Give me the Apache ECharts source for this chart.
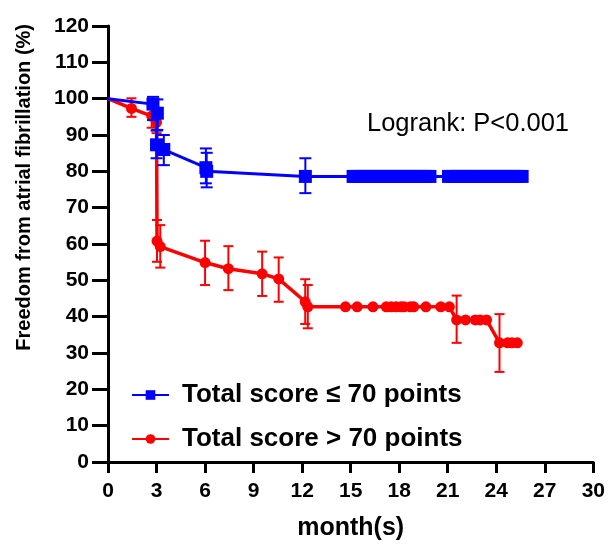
<!DOCTYPE html>
<html>
<head>
    <meta charset="utf-8">
    <title>chart</title>
    <script src="https://cdn.jsdelivr.net/npm/echarts@6/dist/echarts.min.js"></script>
    <style>
        html, body { margin: 0; padding: 0; background: #fff; }
        #main { width: 608px; height: 547px; }
    </style>
</head>
<body>
<div id="main"></div>
<script>
    // axis ticks
    var xTicks = [0, 3, 6, 9, 12, 15, 18, 21, 24, 27, 30];
    var yTicks = [0, 10, 20, 30, 40, 50, 60, 70, 80, 90, 100, 110, 120];

    // group 1: total score <= 70 points (blue squares)
    var blueX = [0, 2.78, 3.05, 3.0, 3.45, 6.05, 6.1, 12.2,
        15.15, 15.4, 15.65, 15.9, 16.15, 16.4, 16.65, 16.9, 17.15, 17.4, 17.65, 17.9,
        18.15, 18.4, 18.65, 18.9, 19.15, 19.4, 19.65, 19.9,
        21.05, 21.3, 21.55, 21.8, 22.05, 22.3, 22.55, 22.8, 23.05, 23.3, 23.55, 23.8,
        24.05, 24.3, 24.55, 24.8, 25.05, 25.3, 25.6];
    var blueY = [100, 98.5, 96, 87.3, 86, 81, 80, 78.6,
        78.6, 78.6, 78.6, 78.6, 78.6, 78.6, 78.6, 78.6, 78.6, 78.6, 78.6, 78.6,
        78.6, 78.6, 78.6, 78.6, 78.6, 78.6, 78.6, 78.6,
        78.6, 78.6, 78.6, 78.6, 78.6, 78.6, 78.6, 78.6, 78.6, 78.6, 78.6, 78.6,
        78.6, 78.6, 78.6, 78.6, 78.6, 78.6, 78.6];
    // error bars: x, lower, upper
    var blueErrX = [2.78, 3.05, 3.0, 3.45, 6.05, 6.1, 12.2];
    var blueErrLo = [94.1, 91.4, 83.6, 81.7, 76.7, 75.6, 74];
    var blueErrHi = [100.5, 99.8, 91.2, 90, 86.3, 85.1, 83.6];

    // group 2: total score > 70 points (red circles)
    var redX = [0, 1.45, 2.7, 3.0, 3.03, 3.23, 6.0, 7.44, 9.53, 10.55, 12.19, 12.35,
        14.68, 15.4, 16.38, 17.2, 17.5, 17.8, 18.1, 18.3, 18.7, 18.9, 19.65, 20.57, 21.1,
        21.55, 22.1, 22.7, 23.0, 23.4,
        24.2, 24.7, 24.97, 25.3];
    var redY = [100, 97.3, 95.2, 93.5, 60.8, 59.3, 54.9, 53.2, 51.8, 50.4, 44.1, 42.7,
        42.7, 42.7, 42.7, 42.7, 42.7, 42.7, 42.7, 42.7, 42.7, 42.7, 42.7, 42.7, 42.7,
        39.1, 39.1, 39.1, 39.1, 39.1,
        32.8, 32.8, 32.8, 32.8];
    var redErrX = [1.45, 2.7, 3.0, 3.03, 3.23, 6.0, 7.44, 9.53, 10.55, 12.19, 12.35, 21.55, 24.2];
    var redErrLo = [95, 92, 90.5, 55.1, 53.5, 48.7, 47.3, 45.7, 44.1, 38, 36.8, 32.8, 24.8];
    var redErrHi = [100.1, 98, 96.8, 66.6, 65.2, 60.9, 59.4, 57.9, 56.3, 50.3, 48.7, 45.8, 40.7];

    var BLUE = '#0000ff';
    var RED = '#ff0000';

    function pairs(xs, ys) {
        return xs.map(function (x, i) { return [x, ys[i]]; });
    }
    function triples(xs, lo, hi) {
        return xs.map(function (x, i) { return [x, lo[i], hi[i]]; });
    }
    // no marker on the starting point at time 0
    function markerSize(size) {
        return function (val, p) { return p.dataIndex === 0 ? 0 : size; };
    }

    // draw an error bar (vertical stem + two caps) through the axis scales
    function errorBar(color, capW) {
        return function (params, api) {
            var top = api.coord([api.value(0), api.value(2)]);
            var bot = api.coord([api.value(0), api.value(1)]);
            var st = { stroke: color, lineWidth: 2 };
            return {
                type: 'group',
                children: [
                    { type: 'line', shape: { x1: top[0], y1: top[1], x2: bot[0], y2: bot[1] }, style: st },
                    { type: 'line', shape: { x1: top[0] - capW, y1: top[1], x2: top[0] + capW, y2: top[1] }, style: st },
                    { type: 'line', shape: { x1: bot[0] - capW, y1: bot[1], x2: bot[0] + capW, y2: bot[1] }, style: st }
                ]
            };
        };
    }

    var chart = echarts.init(document.getElementById('main'));
    var axisText = { color: '#000', fontFamily: 'Liberation Sans, Arial', fontWeight: 'bold', fontSize: 21 };

    chart.setOption({
        animation: false,
        grid: { left: 108, right: 11, top: 26, bottom: 85 },
        xAxis: {
            type: 'value', min: 0, max: 30, interval: 3,
            name: 'month(s)', nameLocation: 'middle', nameGap: 54,
            nameTextStyle: { color: '#000', fontFamily: 'Liberation Sans, Arial', fontWeight: 'bold', fontSize: 25 },
            axisLine: { onZero: false, lineStyle: { color: '#000', width: 3 } },
            axisTick: { length: 11, lineStyle: { color: '#000', width: 3 } },
            axisLabel: Object.assign({ margin: 19, formatter: function (v) { return xTicks.indexOf(v) >= 0 ? v : ''; } }, axisText),
            splitLine: { show: false }
        },
        yAxis: {
            type: 'value', min: 0, max: 120, interval: 10,
            axisLine: { show: true, lineStyle: { color: '#000', width: 3 } },
            axisTick: { show: true, length: 16, lineStyle: { color: '#000', width: 3 } },
            axisLabel: Object.assign({ margin: 19, formatter: function (v) { return yTicks.indexOf(v) >= 0 ? v : ''; } }, axisText),
            splitLine: { show: false }
        },
        legend: {
            orient: 'vertical', left: 126, top: 377, itemGap: 18,
            itemWidth: 37, itemHeight: 12,
            textStyle: { color: '#000', fontFamily: 'Liberation Sans, Arial', fontWeight: 'bold', fontSize: 26, padding: [0, 0, 0, 8] },
            data: ['Total score ≤ 70 points', 'Total score > 70 points']
        },
        graphic: [
            {
                type: 'text', left: 14, top: 24, rotation: Math.PI / 2,
                style: { text: 'Freedom from atrial fibrillation (%)', fill: '#000',
                    font: 'bold 20px "Liberation Sans", Arial' }
            },
            {
                type: 'text', left: 367, top: 111,
                style: { text: 'Logrank: P<0.001', fill: '#000', font: '25.5px "Liberation Sans", Arial' }
            }
        ],
        series: [
            {
                name: 'Total score > 70 points', type: 'line', data: pairs(redX, redY),
                color: RED, symbol: 'circle', symbolSize: markerSize(11),
                lineStyle: { color: RED, width: 3.5 }, itemStyle: { color: RED }, z: 3
            },
            {
                type: 'custom', data: triples(redErrX, redErrLo, redErrHi),
                renderItem: errorBar(RED, 5), encode: { x: 0, y: [1, 2] }, z: 3, silent: true
            },
            {
                name: 'Total score ≤ 70 points', type: 'line', data: pairs(blueX, blueY),
                color: BLUE, symbol: 'rect', symbolSize: markerSize(13),
                lineStyle: { color: BLUE, width: 3 }, itemStyle: { color: BLUE }, z: 4
            },
            {
                type: 'custom', data: triples(blueErrX, blueErrLo, blueErrHi),
                renderItem: errorBar(BLUE, 6), encode: { x: 0, y: [1, 2] }, z: 4, silent: true
            }
        ]
    });
</script>
</body>
</html>
